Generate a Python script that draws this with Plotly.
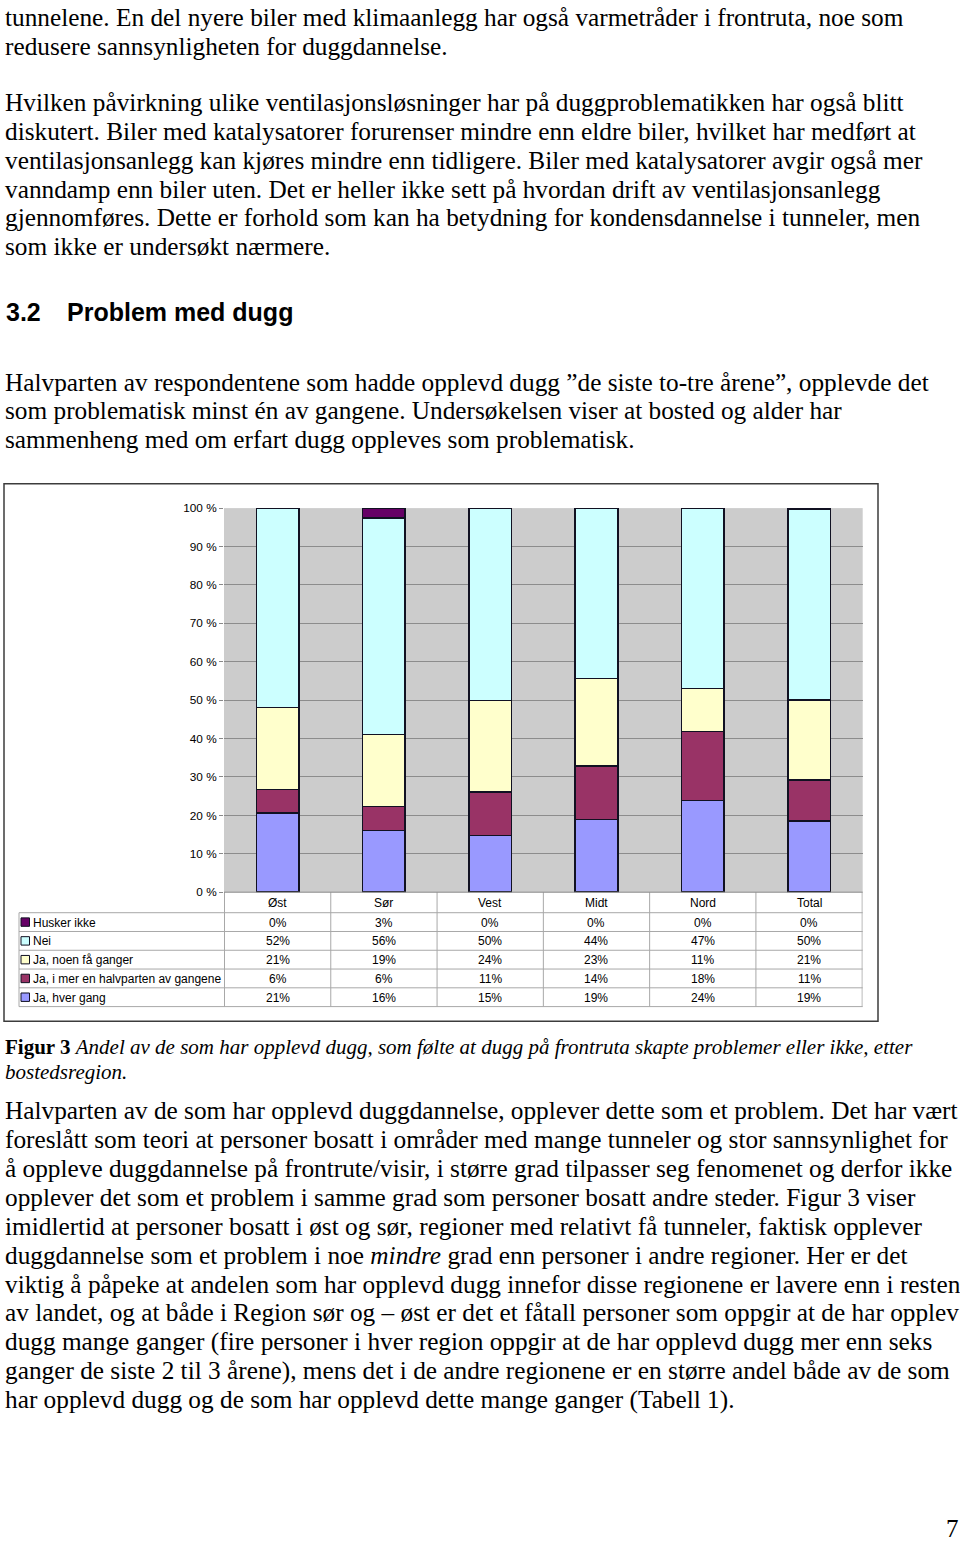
import plotly.graph_objects as go

W, H = 960, 1543

# ---------------- data ----------------
categories = ["Øst", "Sør", "Vest", "Midt", "Nord", "Total"]
hver_gang = [20.6, 16.1, 14.8, 18.9, 23.9, 18.6]
mer_enn_halvparten = [6.2, 6.2, 11.3, 13.9, 18.0, 10.6]
noen_faa = [21.3, 18.8, 23.8, 22.8, 11.2, 20.8]
nei = [51.9, 56.3, 50.1, 44.4, 46.9, 49.6]
husker_ikke = [0.0, 2.6, 0.0, 0.0, 0.0, 0.4]

series_names = ["Ja, hver gang", "Ja, i mer en halvparten av gangene",
                "Ja, noen få ganger", "Nei", "Husker ikke"]
series_values = [hver_gang, mer_enn_halvparten, noen_faa, nei, husker_ikke]
series_colors = ["#9999FF", "#993366", "#FFFFCC", "#CCFFFF", "#660066"]

ytick_vals = [0, 10, 20, 30, 40, 50, 60, 70, 80, 90, 100]
ytick_text = [f"{v} %" for v in ytick_vals]

para1 = ["tunnelene. En del nyere biler med klimaanlegg har også varmetråder i frontruta, noe som",
         "redusere sannsynligheten for duggdannelse."]
para2 = ["Hvilken påvirkning ulike ventilasjonsløsninger har på duggproblematikken har også blitt",
         "diskutert. Biler med katalysatorer forurenser mindre enn eldre biler, hvilket har medført at",
         "ventilasjonsanlegg kan kjøres mindre enn tidligere. Biler med katalysatorer avgir også mer",
         "vanndamp enn biler uten. Det er heller ikke sett på hvordan drift av ventilasjonsanlegg",
         "gjennomføres. Dette er forhold som kan ha betydning for kondensdannelse i tunneler, men",
         "som ikke er undersøkt nærmere."]
heading_num = "3.2"
heading_text = "Problem med dugg"
para3 = ["Halvparten av respondentene som hadde opplevd dugg ”de siste to-tre årene”, opplevde det",
         "som problematisk minst én av gangene. Undersøkelsen viser at bosted og alder har",
         "sammenheng med om erfart dugg oppleves som problematisk."]
caption = ["<b>Figur 3</b> <i>Andel av de som har opplevd dugg, som følte at dugg på frontruta skapte problemer eller ikke, etter</i>",
           "<i>bostedsregion.</i>"]
para4 = ["Halvparten av de som har opplevd duggdannelse, opplever dette som et problem. Det har vært",
         "foreslått som teori at personer bosatt i områder med mange tunneler og stor sannsynlighet for",
         "å oppleve duggdannelse på frontrute/visir, i større grad tilpasser seg fenomenet og derfor ikke",
         "opplever det som et problem i samme grad som personer bosatt andre steder. Figur 3 viser",
         "imidlertid at personer bosatt i øst og sør, regioner med relativt få tunneler, faktisk opplever",
         "duggdannelse som et problem i noe <i>mindre</i> grad enn personer i andre regioner. Her er det",
         "viktig å påpeke at andelen som har opplevd dugg innefor disse regionene er lavere enn i resten",
         "av landet, og at både i Region sør og – øst er det et fåtall personer som oppgir at de har opplev",
         "dugg mange ganger (fire personer i hver region oppgir at de har opplevd dugg mer enn seks",
         "ganger de siste 2 til 3 årene), mens det i de andre regionene er en større andel både av de som",
         "har opplevd dugg og de som har opplevd dette mange ganger (Tabell 1)."]
page_number = "7"

# ---------------- helpers ----------------
def X(px):
    return px / W

def Y(py):
    return 1 - py / H

SERIF = "Liberation Serif, Times New Roman, serif"
SANS = "Liberation Sans, Arial, sans-serif"

fig = go.Figure()

for name, vals, col in zip(series_names, series_values, series_colors):
    fig.add_trace(go.Bar(
        x=categories,
        y=[v if v > 0 else None for v in vals],
        name=name,
        marker=dict(color=col, line=dict(color="#111122", width=1.5)),
        showlegend=False,
        hoverinfo="skip",
    ))

plot_left, plot_right = 224, 862.7
plot_top, plot_bottom = 505.7, 893.3

fig.update_layout(
    width=W, height=H,
    margin=dict(l=0, r=0, t=0, b=0),
    paper_bgcolor="white",
    plot_bgcolor="#CCCCCC",
    barmode="stack",
    bargap=0.6,
    xaxis=dict(domain=[X(plot_left), X(plot_right)], type="category",
               categoryorder="array", categoryarray=categories,
               showticklabels=False, ticks="", showgrid=False,
               showline=False, zeroline=False, fixedrange=True),
    yaxis=dict(domain=[Y(plot_bottom), Y(plot_top)], range=[0, 100],
               tickvals=ytick_vals, ticktext=ytick_text,
               tickfont=dict(family=SANS, size=11.8, color="black"),
               ticks="outside", ticklen=4, tickcolor="#888888",
               gridcolor="#8C8C8C", gridwidth=1, showline=False,
               zeroline=False, fixedrange=True),
    font=dict(family=SANS, color="black"),
)

shapes = []
annotations = []

# outer chart frame
shapes.append(dict(type="rect", xref="paper", yref="paper",
                   x0=X(4), x1=X(878), y0=Y(1023.5), y1=Y(481),
                   line=dict(color="#3C3C3C", width=1.5), layer="below"))

# data table
grid_col = "#A8A8A8"
header_top = plot_bottom
row_top = 914.0
pitch = 18.95
n_rows = len(series_names)
table_bottom = row_top + pitch * n_rows
label_left = 19

for r in range(n_rows + 1):
    yy = row_top + r * pitch
    shapes.append(dict(type="line", xref="paper", yref="paper",
                       x0=X(label_left), x1=X(plot_right), y0=Y(yy), y1=Y(yy),
                       line=dict(color=grid_col, width=1)))
shapes.append(dict(type="line", xref="paper", yref="paper",
                   x0=X(label_left), x1=X(label_left), y0=Y(row_top), y1=Y(table_bottom),
                   line=dict(color=grid_col, width=1)))
for i in range(len(categories) + 1):
    shapes.append(dict(type="line", xref="x", yref="paper",
                       x0=i - 0.5, x1=i - 0.5, y0=Y(header_top), y1=Y(table_bottom),
                       line=dict(color=grid_col, width=1)))
shapes.append(dict(type="line", xref="paper", yref="paper",
                   x0=X(plot_left), x1=X(plot_right), y0=Y(plot_bottom), y1=Y(plot_bottom),
                   line=dict(color="#888888", width=1)))

for c in categories:
    annotations.append(dict(x=c, xref="x", y=Y((header_top + row_top) / 2 + 0.5), yref="paper",
                            text=c, showarrow=False, xanchor="center", yanchor="middle",
                            font=dict(family=SANS, size=12, color="black")))

for r, idx in enumerate(reversed(range(n_rows))):
    yc = row_top + (r + 0.5) * pitch
    shapes.append(dict(type="rect", xref="paper", yref="paper",
                       x0=X(21), x1=X(29.5), y0=Y(yc + 4.25), y1=Y(yc - 4.25),
                       fillcolor=series_colors[idx],
                       line=dict(color="#111122", width=1)))
    annotations.append(dict(x=X(31), xref="paper", y=Y(yc + 0.5), yref="paper",
                            text=series_names[idx], showarrow=False,
                            xanchor="left", yanchor="middle",
                            font=dict(family=SANS, size=12, color="black")))
    for c, v in zip(categories, series_values[idx]):
        annotations.append(dict(x=c, xref="x", y=Y(yc + 0.5), yref="paper",
                                text=f"{round(v)}%", showarrow=False,
                                xanchor="center", yanchor="middle",
                                font=dict(family=SANS, size=12, color="black")))

# page text
def add_lines(lines, y0, step, size=25.3, x=3, family=SERIF):
    for k, t in enumerate(lines):
        annotations.append(dict(x=X(x), xref="paper", y=Y(y0 + k * step), yref="paper",
                                text=t, showarrow=False, xanchor="left", yanchor="middle",
                                font=dict(family=family, size=size, color="black")))

add_lines(para1, 10, 29.1)
add_lines(para2, 96, 29.1)
annotations.append(dict(x=X(4), xref="paper", y=Y(308), yref="paper", text=f"<b>{heading_num}</b>",
                        showarrow=False, xanchor="left", yanchor="middle",
                        font=dict(family=SANS, size=25, color="black")))
annotations.append(dict(x=X(65), xref="paper", y=Y(308), yref="paper", text=f"<b>{heading_text}</b>",
                        showarrow=False, xanchor="left", yanchor="middle",
                        font=dict(family=SANS, size=25, color="black")))
add_lines(para3, 378, 29.1)
add_lines(caption, 1050, 25, size=21)
add_lines(para4, 1113, 29.2)
annotations.append(dict(x=X(961), xref="paper", y=Y(1535), yref="paper", text=page_number,
                        showarrow=False, xanchor="right", yanchor="middle",
                        font=dict(family=SERIF, size=25, color="black")))

fig.update_layout(shapes=shapes, annotations=annotations)

fig.write_html("out.html", config={"displayModeBar": False, "staticPlot": True},
               post_script="document.body.style.margin='0';")
